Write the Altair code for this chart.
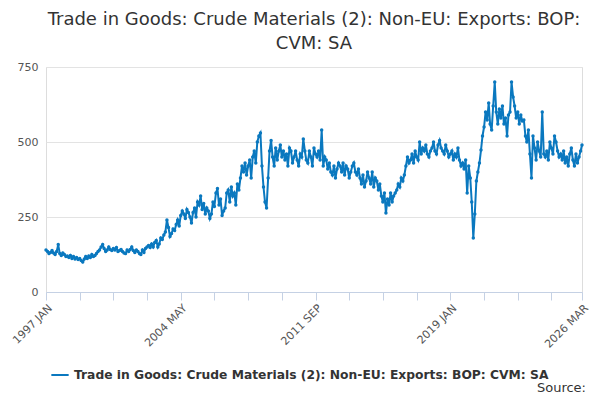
import pandas as pd
import altair as alt

title_lines = ["Trade in Goods: Crude Materials (2): Non-EU: Exports: BOP:", "CVM: SA"]
series_name = "Trade in Goods: Crude Materials (2): Non-EU: Exports: BOP: CVM: SA"

start_year = 1997
values = [
    140, 135, 128, 132, 138, 130, 125, 135, 158, 128, 122, 130,  # 1997
    125, 118, 120, 115, 122, 112, 118, 110, 115, 108, 112, 105,  # 1998
    100, 110, 118, 112, 120, 115, 125, 118, 122, 128, 135, 140,  # 1999
    150, 158, 145, 135, 140, 150, 142, 138, 145, 140, 148, 135,  # 2000
    138, 142, 135, 130, 128, 140, 135, 142, 150, 138, 132, 140,  # 2001
    135, 128, 125, 140, 132, 145, 150, 155, 148, 160, 150, 165,  # 2002
    172, 150, 160, 180, 175, 190, 200, 240, 215, 185, 195, 210,  # 2003
    205, 225, 240, 220, 255, 270, 260, 245, 275, 265, 250, 230,  # 2004
    265, 280, 250, 300, 290, 320, 275, 295, 260, 280, 270, 245,  # 2005
    260, 300, 285, 330, 345, 290, 310, 255, 270, 280, 330, 340,  # 2006
    300, 350, 320, 330, 290, 360, 340, 380, 420, 400, 430, 390,  # 2007
    420, 440, 380, 450, 470, 430, 500, 520, 530, 420, 350, 300,  # 2008
    280, 380, 470, 505, 450, 420, 480, 440, 470, 490, 450, 470,  # 2009
    440, 460, 420, 480, 470, 430, 450, 470, 440, 420, 460, 450,  # 2010
    510, 470, 440, 430, 470, 450, 420, 480, 460, 450, 470, 440,  # 2011
    540, 420, 450, 440, 410, 430, 400, 390, 420, 380, 410, 430,  # 2012
    420, 400, 430, 390, 420, 410, 380, 400, 420, 430, 400, 390,  # 2013
    410, 380, 360, 390, 350, 370, 400, 380, 360, 400, 350, 380,  # 2014
    370, 340, 360, 320, 300, 330, 263, 310, 290, 330, 300, 320,  # 2015
    330, 340, 360, 350, 380, 370, 390, 420, 450, 430, 440, 460,  # 2016
    430, 470, 450, 440, 500, 460, 480, 470, 490, 460, 450, 470,  # 2017
    480, 500, 470, 460, 490, 505, 480, 470, 460, 490, 470, 450,  # 2018
    460, 470, 440, 460, 450, 480, 440, 420, 430, 410, 440, 330,  # 2019
    420, 380, 300, 180, 260, 370, 400, 430, 473, 520, 550, 600,  # 2020
    573, 630, 560, 540, 620, 700, 600, 560, 610, 580, 620, 560,  # 2021
    580, 520, 590, 600, 700, 650, 620, 580, 600, 560, 590, 570,  # 2022
    573, 520, 500, 540, 460, 380, 520, 480, 440, 500, 470, 450,  # 2023
    600, 460, 450, 470, 440, 500, 480, 460, 520, 500, 470, 450,  # 2024
    460, 440, 470, 430, 450, 420, 460, 480, 440, 420, 460, 430,  # 2025
    450, 470, 490,                                               # 2026
]
labelled = ["1997 JAN", "2004 MAY", "2011 SEP", "2019 JAN", "2026 MAR"]
source_text = ["Source:"]

dates = [f"{start_year + i // 12}-{i % 12 + 1:02d}-01" for i in range(len(values))]
df = pd.DataFrame({"date": dates, "value": values, "series": series_name})

tick_vals = []
for k in range(0, 350, 22):
    tick_vals.append(alt.DateTime(year=start_year + k // 12, month=k % 12 + 1, date=1, utc=True))
tick_vals.append(alt.DateTime(year=2026, month=3, date=1, utc=True))

label_test = " || ".join(f"upper(utcFormat(datum.value, '%Y %b')) == '{s}'" for s in labelled)

blue = "#0a78bf"

line = alt.Chart(df).mark_line(
    color=blue, strokeWidth=2,
    point=alt.OverlayMarkDef(color=blue, size=12, filled=True),
).encode(
    x=alt.X("date:T", scale=alt.Scale(type="utc", nice=False), title=None,
            axis=alt.Axis(values=tick_vals, grid=False, labelAngle=-45,
                          labelExpr=f"({label_test}) ? upper(utcFormat(datum.value, '%Y %b')) : ''",
                          domainColor="#c5d1e4", tickColor="#c5d1e4", tickSize=8,
                          labelColor="#555", labelFontSize=11, labelAlign="right",
                          labelBaseline="top", labelPadding=2)),
    y=alt.Y("value:Q", scale=alt.Scale(domain=[0, 750]), title=None,
            axis=alt.Axis(values=[0, 250, 500, 750], domain=False, ticks=False,
                          gridColor="#e3e3e3", labelColor="#555", labelFontSize=11,
                          labelPadding=8)),
    color=alt.Color("series:N", scale=alt.Scale(range=[blue]),
                    legend=alt.Legend(title=None, orient="none", legendX=4, legendY=298,
                                      symbolType="stroke", symbolStrokeWidth=2, symbolSize=300,
                                      labelFontSize=12.3, labelFontWeight="bold",
                                      labelColor="#333", labelLimit=600)),
)

source = alt.Chart(pd.DataFrame({"t": source_text})).mark_text(
    align="right", baseline="middle", fontSize=13, color="#333"
).encode(text="t:N", x=alt.value(540), y=alt.value(321))

chart = alt.layer(line, source).properties(
    width=536, height=225,
    title=alt.TitleParams(title_lines, fontSize=18, fontWeight="normal", color="#333",
                          anchor="middle", offset=8, lineHeight=24),
    autosize=alt.AutoSizeParams(type="none"),
    padding={"left": 38, "top": 59, "right": 10, "bottom": 110},
).configure_view(stroke=None).configure(font="DejaVu Sans")

chart.save("out.html", embed_options={"renderer": "svg", "actions": False})
